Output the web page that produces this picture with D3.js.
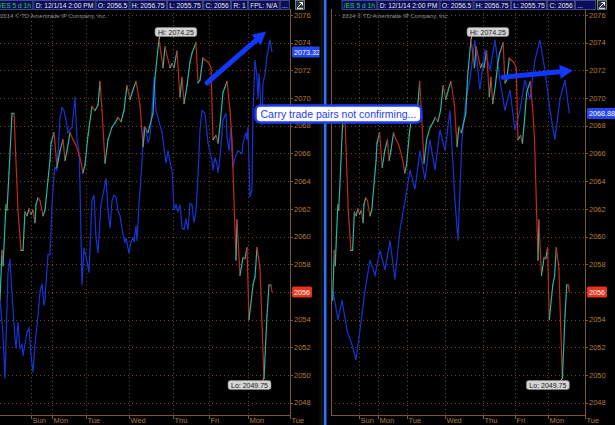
<!DOCTYPE html>
<html><head><meta charset="utf-8">
<script src="https://cdn.jsdelivr.net/npm/d3@7"></script>
<style>html,body{margin:0;padding:0;background:#000;overflow:hidden}</style>
</head><body><svg id="c" width="615" height="425"></svg>
<script>
// ---------- DATA ----------
// /ES 1h closes: [bar index (hours of session), price]
const esPrice = [[0,2055.4],[1,2059.0],[1.5,2057.9],[3,2062.3],[3.5,2061.9],[4.5,2064.6],[6,2068.9],[7,2068.9],[9,2061.9],[10.5,2059.0],[11.5,2059.0],[12.5,2061.8],[13.5,2061.5],[14.5,2062.0],[15.5,2061.6],[16.5,2061.9],[17.5,2061.0],[18,2062.3],[19,2062.8],[20,2062.6],[21.5,2061.5],[22.5,2061.9],[24,2064.1],[25,2065.5],[25.5,2066.75],[27,2067.5],[28.5,2065.0],[30,2066.2],[31.5,2067.0],[32.5,2065.5],[33.5,2066.2],[35,2067.5],[36.5,2067.0],[38,2066.6],[40,2065.7],[41.5,2064.6],[42.5,2065.2],[44,2067.3],[46,2069.4],[47.5,2069.1],[49,2069.5],[50,2071.2],[51,2069.1],[52.5,2065.3],[54,2067.0],[56,2067.9],[57.5,2068.2],[59,2068.6],[60.5,2068.3],[62,2069.1],[63.5,2070.9],[65,2069.9],[66.5,2070.6],[68,2071.2],[70,2069.5],[71.5,2066.5],[72.5,2067.9],[74,2067.5],[76.5,2068.9],[77.5,2071.5],[79.5,2074.25],[81.5,2072.2],[82.5,2073.7],[85,2072.2],[86,2072.5],[87,2072.2],[88.5,2073.4],[90,2070.1],[91,2071.5],[92,2069.6],[93.5,2070.9],[95,2072.6],[96,2073.25],[98,2074.0],[99,2071.1],[100,2071.3],[101.5,2072.9],[102.5,2072.75],[104,2072.6],[105.5,2072.2],[106.5,2067.0],[108,2067.3],[109,2066.75],[110,2068.05],[111.5,2070.4],[113.5,2071.2],[115,2069.1],[116,2067.0],[118,2058.3],[118.5,2061.2],[120,2057.2],[121.5,2058.5],[122.5,2058.4],[123.5,2059.2],[124.5,2054.0],[126.5,2056.5],[127.5,2057.1],[128.5,2059.2],[130,2057.7],[132,2049.75],[133.5,2054.3],[134.5,2056.5],[135.5,2056.5],[136,2056.0]];

// carry-trade pair overlay (left chart), in /ES price units
const carryLeft = [[0,2055.4],[1,2053.8],[1.5,2052.9],[2.5,2049.75],[4,2057.4],[5,2058.4],[6,2055.8],[7.5,2052.7],[8,2051.9],[9,2053.8],[10,2051.9],[11,2052.2],[11.5,2051.4],[13.5,2053.1],[14.5,2053.4],[15.5,2051.4],[16.5,2050.2],[17.5,2052.2],[19,2054.3],[20,2056.0],[21,2056.6],[22,2055.0],[22.5,2055.55],[24,2058.7],[25,2058.7],[26,2062.3],[27,2064.4],[27.5,2065.0],[28.5,2064.8],[30,2068.6],[31,2069.3],[32,2069.1],[33,2068.4],[34,2067.5],[35,2067.7],[36,2067.9],[36.5,2068.6],[37.5,2070.1],[38.5,2067.0],[39.5,2066.2],[40,2063.6],[41,2056.5],[42,2059.2],[43.5,2058.2],[44.5,2057.4],[46,2062.6],[47,2063.0],[48,2059.9],[49,2058.8],[50.5,2062.3],[52,2063.4],[53,2064.2],[54,2061.9],[55,2060.6],[56,2062.6],[57,2063.0],[58,2062.85],[59,2061.9],[60,2061.5],[61.5,2060.1],[62.5,2059.6],[63,2059.9],[64.5,2058.8],[65.5,2059.6],[66.5,2059.9],[67,2059.6],[68,2060.8],[68.5,2059.7],[69.5,2062.3],[71,2065.5],[72,2067.9],[73,2067.8],[74,2066.75],[75,2067.2],[76,2069.1],[77,2071.5],[78,2069.1],[80,2068.05],[81,2067.5],[83,2065.3],[84,2066.2],[85.5,2065.0],[86,2064.8],[86.5,2063.4],[87,2061.9],[88,2062.3],[89,2061.8],[90,2062.3],[91,2060.6],[92,2060.5],[93,2061.3],[94,2060.5],[95,2062.4],[96,2062.3],[97,2061.0],[98,2061.8],[99,2064.4],[100,2067.7],[101,2069.1],[102.5,2068.9],[104,2066.75],[106,2065.5],[106.5,2064.8],[107.5,2065.7],[108.5,2065.2],[109,2064.6],[110,2065.7],[111.5,2068.4],[113,2068.9],[113.5,2067.2],[114.5,2066.2],[115.5,2067.9],[116,2066.0],[116.5,2065.0],[117.5,2065.7],[119,2066.2],[121,2066.0],[121.5,2066.75],[123,2067.5],[123.5,2067.0],[124,2067.9],[125,2062.85],[126,2063.4],[126.5,2069.1],[127.5,2072.75],[128.5,2071.5],[129,2069.9],[129.5,2071.8],[131,2068.05],[131.5,2071.1],[132.5,2071.7],[133.5,2073.0],[135,2074.2],[136,2073.32]];

// carry-trade pair overlay (right chart)
const carryRight = [[0.2,2056.1],[3.1,2054.0],[5.4,2055.4],[8.3,2053.2],[11.1,2052.2],[13.4,2051.1],[15.7,2053.2],[18.6,2056.1],[21.5,2058.3],[24.4,2057.2],[27.2,2059.0],[30.1,2057.6],[33,2059.7],[35.8,2056.9],[38.7,2060.5],[41.6,2062.6],[44.5,2064.8],[47.3,2063.4],[50.2,2066.2],[53.1,2064.1],[55.9,2067.0],[58.8,2064.8],[61.7,2067.7],[64.6,2066.2],[67.4,2069.1],[70.3,2062.6],[72,2059.7],[74.3,2067.0],[76.6,2069.9],[78.9,2071.3],[81.7,2074.2],[84.6,2070.6],[87.5,2073.5],[90.4,2072.0],[93.3,2074.2],[96.1,2071.3],[99,2069.1],[101.9,2070.6],[104.7,2067.7],[107.6,2069.1],[110.5,2071.3],[113.4,2069.9],[116.2,2072.7],[119.1,2074.2],[122,2072.0],[124.9,2069.1],[127.7,2067.0],[130.6,2069.9],[133.5,2071.3],[136,2068.88]];

const dayTicks  = [15.35, 26.15, 42.85, 64.65, 86.65, 104.5, 123.85, 145];
const dayLabels = ["Sun","Mon","Tue","Wed","Thu","Fri","Mon","Tue"];
const priceTicks = [2048,2050,2052,2054,2056,2058,2060,2062,2064,2066,2068,2070,2072,2074,2076];
const headerLeft  = ["/ES 5 d 1h","D: 12/1/14 2:00 PM","O: 2056.5","H: 2056.75","L: 2055.75","C: 2056","R: 1","FPL: N/A","..."];
const headerRight = ["/ES 5 d 1h","D: 12/1/14 2:00 PM","O: 2056.5","H: 2056.75","L: 2055.75","C: 2056","..."];
const hiLabel = "Hi: 2074.25", loLabel = "Lo: 2049.75";
const lastClose = "2056";
const lastCarry = ["2073.32","2068.88"];
const note = "Carry trade pairs not confirming...";
const copyright = "2014 \u00a9 TD Ameritrade IP Company, Inc.";

// ---------- DRAW ----------
const svg = d3.select("#c");
svg.append("rect").attr("width",615).attr("height",425).attr("fill","#000");

const y = d3.scaleLinear().domain([2048,2076]).range([402.7,15]);
const GRID = "#6b4b1e", AXIS = "#7a5a25", LBL = "#b57a35";
const UP = "#2bb3a3", DN = "#c22a18", BLUE = "#1634d6";
const FONT = "'Liberation Sans', Arial, sans-serif";

function boxText(parent, txt, opt){
  const g = parent.append("g");
  const r = g.append("rect");
  const t = g.append("text").attr("font-family",FONT).attr("font-size",opt.fs).attr("fill",opt.color).text(txt);
  const w = Math.max(t.node().getComputedTextLength() + 2*opt.pad, opt.minW||0);
  r.attr("x",opt.x).attr("y",opt.y).attr("width",w).attr("height",opt.h).attr("rx",opt.rx||0)
   .attr("fill",opt.fill).attr("stroke",opt.stroke||"none").attr("stroke-width",opt.sw||0);
  t.attr("x",opt.x+opt.pad).attr("y",opt.y+opt.base);
  return w;
}

const panels = [
  {plotL:-11, axisX:290, x:d3.scaleLinear().domain([0,145]).range([0,290]), carry:carryLeft, header:headerLeft, hx:-2.5, icon:295, last:lastCarry[0],
   arrow:[[103.5,2071.1],[133,2074.8]]},
  {plotL:331, axisX:585, x:d3.scaleLinear().domain([0,145]).range([332.6,585]), carry:carryRight, header:headerRight, hx:341.5, icon:597, last:lastCarry[1],
   arrow:[[97.9,2071.5],[138,2072.0]]}
];

panels.forEach((p,pi)=>{
  const g = svg.append("g");
  const clipId = "clip"+pi;
  const pl = Math.max(p.plotL,0);
  g.append("clipPath").attr("id",clipId).append("rect")
    .attr("x",pl).attr("y",9).attr("width",p.axisX-pl).attr("height",406);
  const grid = g.append("g");
  priceTicks.forEach(v=>{
    grid.append("line").attr("x1",pl).attr("x2",p.axisX).attr("y1",Math.round(y(v))+0.5).attr("y2",Math.round(y(v))+0.5)
      .attr("stroke",GRID).attr("stroke-dasharray","1,3").attr("stroke-width",1);
  });
  dayTicks.forEach(t=>{
    const xx = Math.round(p.x(t))+0.5;
    if (xx < p.axisX-1) grid.append("line").attr("x1",xx).attr("x2",xx).attr("y1",9).attr("y2",415)
      .attr("stroke",GRID).attr("stroke-dasharray","1,3");
  });
  g.append("text").attr("x",p.plotL+11).attr("y",18).attr("fill","#8c8c8c").attr("font-family",FONT).attr("font-size",6).text(copyright);

  g.append("line").attr("x1",p.axisX+0.5).attr("x2",p.axisX+0.5).attr("y1",9).attr("y2",415).attr("stroke",AXIS);
  g.append("line").attr("x1",pl).attr("x2",p.axisX).attr("y1",415.5).attr("y2",415.5).attr("stroke",AXIS);
  if (p.plotL>0) g.append("line").attr("x1",p.plotL+0.5).attr("x2",p.plotL+0.5).attr("y1",9).attr("y2",415).attr("stroke",AXIS);

  priceTicks.forEach(v=>{
    g.append("line").attr("x1",p.axisX).attr("x2",p.axisX+3).attr("y1",Math.round(y(v))+0.5).attr("y2",Math.round(y(v))+0.5).attr("stroke",AXIS);
    g.append("text").attr("x",p.axisX+4).attr("y",y(v)+2.7).attr("fill",LBL).attr("font-family",FONT).attr("font-size",7.5).text(v);
  });
  dayTicks.forEach((t,i)=>{
    const xx = Math.round(p.x(t))+0.5;
    g.append("line").attr("x1",xx).attr("x2",xx).attr("y1",415).attr("y2",419).attr("stroke",AXIS);
    g.append("text").attr("x",xx+1).attr("y",423).attr("fill",LBL).attr("font-family",FONT).attr("font-size",7.5).text(dayLabels[i]);
  });

  const plot = g.append("g").attr("clip-path",`url(#${clipId})`);
  const line = d3.line().x(d=>p.x(d[0])).y(d=>y(d[1]));
  plot.append("path").datum(p.carry).attr("d",line).attr("fill","none").attr("stroke",BLUE).attr("stroke-width",1.2);
  for (let i=1;i<esPrice.length;i++){
    const a=esPrice[i-1], b=esPrice[i];
    plot.append("line").attr("x1",p.x(a[0])).attr("y1",y(a[1])).attr("x2",p.x(b[0])).attr("y2",y(b[1]))
      .attr("stroke", b[1]>=a[1]?UP:DN).attr("stroke-width",1.2).attr("stroke-linecap","round");
  }

  const hi = esPrice.reduce((m,d)=>d[1]>m[1]?d:m), lo = esPrice.reduce((m,d)=>d[1]<m[1]?d:m);
  const hx0 = p.x(hi[0]), hy0 = y(hi[1]);
  g.append("line").attr("x1",hx0).attr("y1",hy0).attr("x2",hx0+1).attr("y2",36).attr("stroke","#bbb");
  boxText(g, hiLabel, {x:hx0-4, y:27.5, h:9, pad:3, base:7, fs:7, color:"#222", fill:"#d4d4d4", stroke:"#888", sw:0.6, rx:2.5});
  const lx0 = p.x(lo[0]), ly0 = y(lo[1]);
  g.append("line").attr("x1",lx0).attr("y1",ly0).attr("x2",lx0-2).attr("y2",381).attr("stroke","#bbb");
  boxText(g, loLabel, {x:lx0-36, y:380.5, h:9, pad:3, base:7, fs:7, color:"#222", fill:"#d4d4d4", stroke:"#888", sw:0.6, rx:2.5});

  boxText(g, lastClose, {x:p.axisX+2, y:y(+lastClose)-5.5, h:11, pad:2, base:8.2, fs:7.2, color:"#fff", fill:"#e8321c", rx:1.5});
  boxText(g, p.last, {x:p.axisX+2, y:y(+p.last)-5.5, h:11, pad:2, base:8.2, fs:7.2, color:"#fff", fill:"#2446f0", rx:1.5});

  const [s,e] = p.arrow;
  const x1=p.x(s[0]), y1=y(s[1]), x2=p.x(e[0]), y2=y(e[1]);
  const ang=Math.atan2(y2-y1,x2-x1), L=13, W=7;
  const bx=x2-L*Math.cos(ang), by=y2-L*Math.sin(ang);
  g.append("line").attr("x1",x1).attr("y1",y1).attr("x2",bx).attr("y2",by).attr("stroke","#1238ff").attr("stroke-width",5).attr("stroke-linecap","round");
  g.append("path").attr("d",`M${x2},${y2}L${bx+W*Math.sin(ang)},${by-W*Math.cos(ang)}L${bx-W*Math.sin(ang)},${by+W*Math.cos(ang)}Z`).attr("fill","#1238ff");

  let hx = p.hx;
  p.header.forEach((h,i)=>{
    const last = i===p.header.length-1;
    const w = boxText(g, h, {x:hx+0.5, y:0.5, h:9, pad:1.8, base:7.2, fs:6.7, color: i===0?"#1ed24a":"#e8e8e8", fill:"#0c0c5c", stroke:"#4a5a9a", sw:0.8, minW: (last && pi===1)?20:0});
    hx += w+1;
  });
  const ix = p.icon;
  g.append("rect").attr("x",ix+0.5).attr("y",0.5).attr("width",9).attr("height",9).attr("fill","#2a3440").attr("stroke","#9aa4b0").attr("stroke-width",0.7);
  g.append("path").attr("d",`M${ix+2.5},7.5L${ix+7.5},2.5M${ix+4.5},2.5H${ix+7.5}V5.5M${ix+2},8.3H${ix+8}`).attr("stroke","#fff").attr("fill","none").attr("stroke-width",1);
});

svg.append("rect").attr("x",319.5).attr("y",0).attr("width",4.5).attr("height",425).attr("fill","#0e0e0e");
svg.append("rect").attr("x",324).attr("y",0).attr("width",2.5).attr("height",425).attr("fill","#2a72ff");

boxText(svg, note, {x:255.5, y:105.5, h:17, pad:5, base:12, fs:10.5, color:"#1e3cff", fill:"#fff", stroke:"#1a3cff", sw:2.5, rx:5});
</script></body></html>
